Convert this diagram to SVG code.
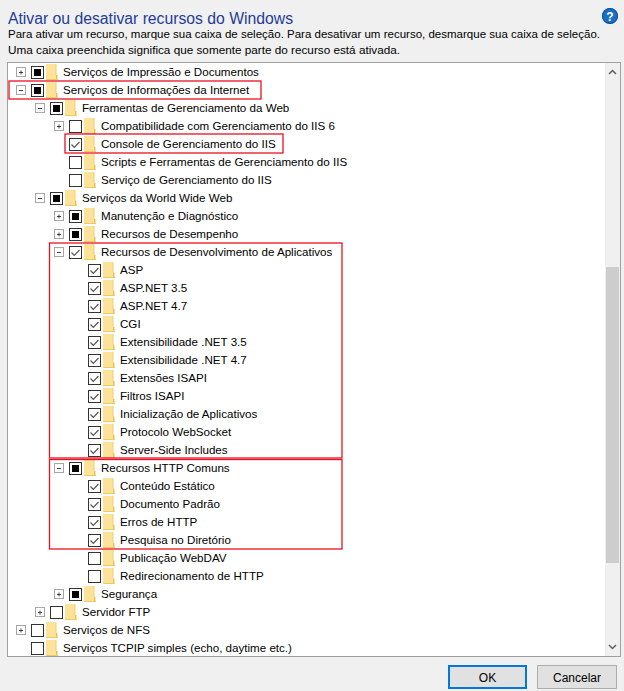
<svg xmlns="http://www.w3.org/2000/svg" xmlns:xlink="http://www.w3.org/1999/xlink" width="624" height="691" viewBox="0 0 624 691">
<style>
  .t { font-family: "Liberation Sans", Arial, sans-serif; font-size: 11.6px; fill: #000; }
  .title { font-family: "Liberation Sans", Arial, sans-serif; font-size: 16px; fill: #1f3c96; }
  .red { fill: none; stroke: #e81123; stroke-width: 1.3; }
  .btn { font-family: "Liberation Sans", Arial, sans-serif; font-size: 12px; fill: #000; text-anchor: middle; }
</style>
<defs>
  <g id="xp">
    <rect x="-14.5" y="-4.5" width="9" height="9" fill="#fff" stroke="#a6a6a6"/>
    <path d="M-12 0.5H-8M-10 -1.5V2.5" stroke="#404040" stroke-width="1" fill="none"/>
  </g>
  <g id="xm">
    <rect x="-14.5" y="-4.5" width="9" height="9" fill="#fff" stroke="#a6a6a6"/>
    <path d="M-12 0.5H-8" stroke="#404040" stroke-width="1" fill="none"/>
  </g>
  <g id="cbe">
    <rect x="0.5" y="-5.5" width="12" height="12" fill="#fff" stroke="#333"/>
  </g>
  <g id="cbp">
    <rect x="0.5" y="-5.5" width="12" height="12" fill="#fff" stroke="#333"/>
    <rect x="3" y="-3" width="7" height="7" fill="#000"/>
  </g>
  <g id="cbc">
    <rect x="0.5" y="-5.5" width="12" height="12" fill="#fff" stroke="#333"/>
    <path d="M2.5 0.5L5.3 3.3L10.5 -2" fill="none" stroke="#555" stroke-width="1.2"/>
  </g>
  <g id="fold">
    <path d="M15 -8H25V3H27V7.5H15Z" fill="#fde39a"/>
    <path d="M25 -8V3" stroke="#f2cd6a" stroke-width="1" fill="none"/>
    <path d="M25.5 3V7.5H27" stroke="#e8bf52" stroke-width="1" fill="none"/>
    <path d="M15 7.5H27" stroke="#f0c95f" stroke-width="1" fill="none"/>
  </g>
</defs>

<!-- dialog background -->
<rect x="0" y="0" width="624" height="691" fill="#f0f0f0"/>

<g id="header">
  <text class="title" x="8" y="24" textLength="285" lengthAdjust="spacingAndGlyphs">Ativar ou desativar recursos do Windows</text>
  <text class="t" x="8" y="38" textLength="592" lengthAdjust="spacingAndGlyphs">Para ativar um recurso, marque sua caixa de seleção. Para desativar um recurso, desmarque sua caixa de seleção.</text>
  <text class="t" x="8" y="54" textLength="392" lengthAdjust="spacingAndGlyphs">Uma caixa preenchida significa que somente parte do recurso está ativada.</text>
  <g id="help">
    <circle cx="610" cy="16" r="8" fill="#1a6fc4"/>
    <circle cx="610" cy="16" r="7.5" fill="none" stroke="#0b4f9a" stroke-width="1"/>
    <text x="610" y="20.5" text-anchor="middle" style="font-family:'Liberation Sans',Arial,sans-serif;font-size:12px;font-weight:bold;fill:#fff">?</text>
  </g>
</g>

<!-- tree view box -->
<g id="treebox">
  <rect x="7.5" y="62.5" width="613" height="594" fill="#fff" stroke="#a0a0a0"/>
  <rect x="605" y="63" width="15" height="593" fill="#f0f0f0"/>
  <rect x="606" y="267" width="13" height="296" fill="#cdcdcd"/>
  <path d="M609 74L612.5 70.5L616 74" fill="none" stroke="#606060" stroke-width="1.5"/>
  <path d="M609 645L612.5 648.5L616 645" fill="none" stroke="#606060" stroke-width="1.5"/>
</g>

<g id="connectors"></g>

<g id="n1" transform="translate(31,72)"><use href="#xp"/><use href="#cbp"/><use href="#fold"/><text class="t" x="32" y="4">Serviços de Impressão e Documentos</text></g>
<g id="n2" transform="translate(31,90)"><use href="#xm"/><use href="#cbp"/><use href="#fold"/><text class="t" x="32" y="4">Serviços de Informações da Internet</text></g>
<g id="n3" transform="translate(50,108)"><use href="#xm"/><use href="#cbp"/><use href="#fold"/><text class="t" x="32" y="4">Ferramentas de Gerenciamento da Web</text></g>
<g id="n4" transform="translate(69,126)"><use href="#xp"/><use href="#cbe"/><use href="#fold"/><text class="t" x="32" y="4">Compatibilidade com Gerenciamento do IIS 6</text></g>
<g id="n5" transform="translate(69,144)"><use href="#cbc"/><use href="#fold"/><text class="t" x="32" y="4">Console de Gerenciamento do IIS</text></g>
<g id="n6" transform="translate(69,162)"><use href="#cbe"/><use href="#fold"/><text class="t" x="32" y="4">Scripts e Ferramentas de Gerenciamento do IIS</text></g>
<g id="n7" transform="translate(69,180)"><use href="#cbe"/><use href="#fold"/><text class="t" x="32" y="4">Serviço de Gerenciamento do IIS</text></g>
<g id="n8" transform="translate(50,198)"><use href="#xm"/><use href="#cbp"/><use href="#fold"/><text class="t" x="32" y="4">Serviços da World Wide Web</text></g>
<g id="n9" transform="translate(69,216)"><use href="#xp"/><use href="#cbp"/><use href="#fold"/><text class="t" x="32" y="4">Manutenção e Diagnóstico</text></g>
<g id="n10" transform="translate(69,234)"><use href="#xp"/><use href="#cbp"/><use href="#fold"/><text class="t" x="32" y="4">Recursos de Desempenho</text></g>
<g id="n11" transform="translate(69,252)"><use href="#xm"/><use href="#cbc"/><use href="#fold"/><text class="t" x="32" y="4">Recursos de Desenvolvimento de Aplicativos</text></g>
<g id="n12" transform="translate(88,270)"><use href="#cbc"/><use href="#fold"/><text class="t" x="32" y="4">ASP</text></g>
<g id="n13" transform="translate(88,288)"><use href="#cbc"/><use href="#fold"/><text class="t" x="32" y="4">ASP.NET 3.5</text></g>
<g id="n14" transform="translate(88,306)"><use href="#cbc"/><use href="#fold"/><text class="t" x="32" y="4">ASP.NET 4.7</text></g>
<g id="n15" transform="translate(88,324)"><use href="#cbc"/><use href="#fold"/><text class="t" x="32" y="4">CGI</text></g>
<g id="n16" transform="translate(88,342)"><use href="#cbc"/><use href="#fold"/><text class="t" x="32" y="4">Extensibilidade .NET 3.5</text></g>
<g id="n17" transform="translate(88,360)"><use href="#cbc"/><use href="#fold"/><text class="t" x="32" y="4">Extensibilidade .NET 4.7</text></g>
<g id="n18" transform="translate(88,378)"><use href="#cbc"/><use href="#fold"/><text class="t" x="32" y="4">Extensões ISAPI</text></g>
<g id="n19" transform="translate(88,396)"><use href="#cbc"/><use href="#fold"/><text class="t" x="32" y="4">Filtros ISAPI</text></g>
<g id="n20" transform="translate(88,414)"><use href="#cbc"/><use href="#fold"/><text class="t" x="32" y="4">Inicialização de Aplicativos</text></g>
<g id="n21" transform="translate(88,432)"><use href="#cbc"/><use href="#fold"/><text class="t" x="32" y="4">Protocolo WebSocket</text></g>
<g id="n22" transform="translate(88,450)"><use href="#cbc"/><use href="#fold"/><text class="t" x="32" y="4">Server-Side Includes</text></g>
<g id="n23" transform="translate(69,468)"><use href="#xm"/><use href="#cbp"/><use href="#fold"/><text class="t" x="32" y="4">Recursos HTTP Comuns</text></g>
<g id="n24" transform="translate(88,486)"><use href="#cbc"/><use href="#fold"/><text class="t" x="32" y="4">Conteúdo Estático</text></g>
<g id="n25" transform="translate(88,504)"><use href="#cbc"/><use href="#fold"/><text class="t" x="32" y="4">Documento Padrão</text></g>
<g id="n26" transform="translate(88,522)"><use href="#cbc"/><use href="#fold"/><text class="t" x="32" y="4">Erros de HTTP</text></g>
<g id="n27" transform="translate(88,540)"><use href="#cbc"/><use href="#fold"/><text class="t" x="32" y="4">Pesquisa no Diretório</text></g>
<g id="n28" transform="translate(88,558)"><use href="#cbe"/><use href="#fold"/><text class="t" x="32" y="4">Publicação WebDAV</text></g>
<g id="n29" transform="translate(88,576)"><use href="#cbe"/><use href="#fold"/><text class="t" x="32" y="4">Redirecionamento de HTTP</text></g>
<g id="n30" transform="translate(69,594)"><use href="#xp"/><use href="#cbp"/><use href="#fold"/><text class="t" x="32" y="4">Segurança</text></g>
<g id="n31" transform="translate(50,612)"><use href="#xp"/><use href="#cbe"/><use href="#fold"/><text class="t" x="32" y="4">Servidor FTP</text></g>
<g id="n32" transform="translate(31,630)"><use href="#xp"/><use href="#cbe"/><use href="#fold"/><text class="t" x="32" y="4">Serviços de NFS</text></g>
<g id="n33" transform="translate(31,648)"><use href="#cbe"/><use href="#fold"/><text class="t" x="32" y="4">Serviços TCPIP simples (echo, daytime etc.)</text></g>

<g id="highlights">
  <rect class="red" x="9" y="81" width="252" height="18"/>
  <rect class="red" x="65" y="134" width="218" height="19"/>
  <rect class="red" x="49.5" y="243" width="292.5" height="215"/>
  <rect class="red" x="49.5" y="459.5" width="292.5" height="89.5"/>
</g>

<g id="ok">
  <rect x="449" y="666" width="77" height="22" fill="#e1e1e1" stroke="#0078d7" stroke-width="2"/>
  <text class="btn" x="487.5" y="681.5">OK</text>
</g>
<g id="cancel">
  <rect x="537.5" y="665.5" width="79" height="23" fill="#e1e1e1" stroke="#adadad"/>
  <text class="btn" x="577" y="681.5">Cancelar</text>
</g>
</svg>
